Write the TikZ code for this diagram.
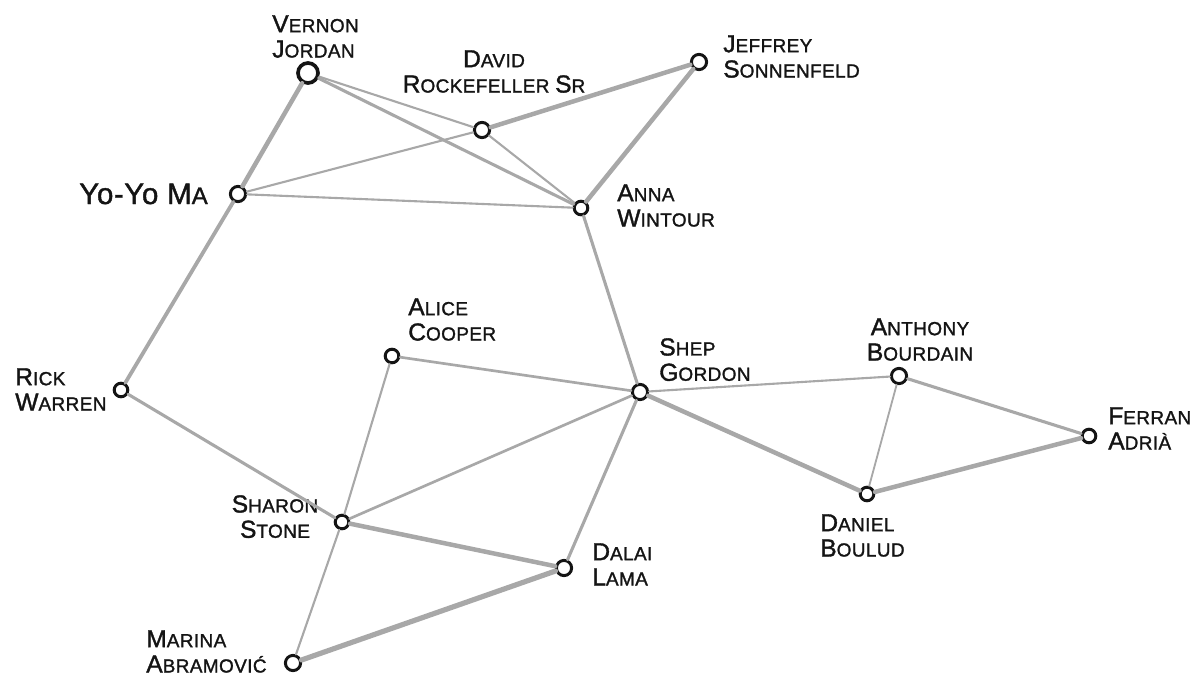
\documentclass[tikz,border=0pt]{standalone}
\usepackage{fontspec}
\setmainfont{Liberation Sans}[FakeBold=1.4,LetterSpace=2]
\newcommand\bc[1]{{\fontsize{17.5}{18}\selectfont #1}}
\definecolor{edgegray}{HTML}{A8A8A8}
\definecolor{ink}{HTML}{141414}
\begin{document}
\begin{tikzpicture}[x=0.025cm,y=-0.025cm,
  person/.style={circle,draw=ink,fill=white,line width=2.1pt,minimum size=0.38cm,inner sep=0pt},
  bigperson/.style={person,line width=2.6pt,minimum size=0.5cm},
  smallperson/.style={person,minimum size=0.34cm},
  lbl/.style={inner sep=0pt,text=ink,font=\fontsize{13.5}{18}\selectfont},
  tie/.style={draw=edgegray,line cap=round},
  weak/.style={tie,line width=1.5pt},
  mid/.style={tie,line width=2.2pt},
  strong/.style={tie,line width=3.2pt}]
\useasboundingbox (0,0) rectangle (1193,683);

% people
\node[bigperson]   (vj) at (308,73)  {};
\node[person]      (dr) at (482,130) {};
\node[person]      (js) at (699,62)  {};
\node[person]      (yy) at (238,194) {};
\node[smallperson] (aw) at (581,208) {};
\node[smallperson] (rw) at (121,390) {};
\node[smallperson] (ac) at (392,356) {};
\node[person]      (sg) at (640,392) {};
\node[person]      (ab) at (899,376) {};
\node[smallperson] (fa) at (1089,436) {};
\node[smallperson] (db) at (867,494) {};
\node[smallperson] (ss) at (342,522) {};
\node[person]      (dl) at (564,568) {};
\node[person]      (ma) at (293,663) {};

% names
\node[lbl,anchor=north west,align=left]   (vjl) at (272,15)  {\bc{V}ERNON\\\bc{J}ORDAN};
\node[lbl,anchor=north,align=center]      (drl) at (494,50)  {\bc{D}AVID\\\bc{R}OCKEFELLER \bc{S}R};
\node[lbl,anchor=north west,align=left]   (jsl) at (723,35)  {\bc{J}EFFREY\\\bc{S}ONNENFELD};
\node[lbl,anchor=base east]               (yyl) at (208,204) {{\fontsize{21}{24}\selectfont Yo-Yo M}{\fontsize{17}{24}\selectfont A}};
\node[lbl,anchor=north west,align=left]   (awl) at (617,184) {\bc{A}NNA\\\bc{W}INTOUR};
\node[lbl,anchor=north west,align=left]   (rwl) at (15,368)  {\bc{R}ICK\\\bc{W}ARREN};
\node[lbl,anchor=north west,align=left]   (acl) at (408,298) {\bc{A}LICE\\\bc{C}OOPER};
\node[lbl,anchor=north west,align=left]   (sgl) at (659,338) {\bc{S}HEP\\\bc{G}ORDON};
\node[lbl,anchor=north,align=center]      (abl) at (920,318) {\bc{A}NTHONY\\\bc{B}OURDAIN};
\node[lbl,anchor=north west,align=left]   (fal) at (1108,407) {\bc{F}ERRAN\\\bc{A}DRIÀ};
\node[lbl,anchor=north west,align=left]   (dbl) at (820,514) {\bc{D}ANIEL\\\bc{B}OULUD};
\node[lbl,anchor=north,align=center]      (ssl) at (275,495) {\bc{S}HARON\\\bc{S}TONE};
\node[lbl,anchor=north west,align=left]   (dll) at (592,543) {\bc{D}ALAI\\\bc{L}AMA};
\node[lbl,anchor=north west,align=left]   (mal) at (146,630) {\bc{M}ARINA\\\bc{A}BRAMOVIĆ};

% connections
\draw[strong] (vj) -- (yy);
\draw[weak]   (vj) -- (dr);
\draw[mid]    (vj) -- (aw);
\draw[weak]   (yy) -- (dr);
\draw[weak]   (yy) -- (aw);
\draw[strong] (dr) -- (js);
\draw[weak]   (dr) -- (aw);
\draw[strong] (js) -- (aw);
\draw[mid,line width=2.7pt] (yy) -- (rw);
\draw[mid]    (aw) -- (sg);
\draw[mid]    (rw) -- (ss);
\draw[mid,line width=1.9pt] (ac) -- (sg);
\draw[weak]   (ac) -- (ss);
\draw[mid,line width=1.9pt] (ss) -- (sg);
\draw[mid]    (sg) -- (dl);
\draw[weak]   (sg) -- (ab);
\draw[strong] (sg) -- (db);
\draw[weak,line width=1.3pt] (ab) -- (db);
\draw[mid]    (ab) -- (fa);
\draw[strong] (db) -- (fa);
\draw[strong] (ss) -- (dl);
\draw[weak]   (ss) -- (ma);
\draw[strong,line width=3.7pt] (ma) -- (dl);
\end{tikzpicture}
\end{document}
